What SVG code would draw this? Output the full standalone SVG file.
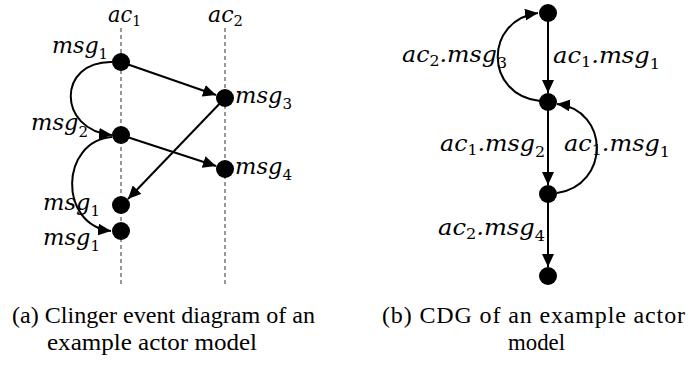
<svg xmlns="http://www.w3.org/2000/svg" width="691" height="367" viewBox="0 0 691 367">
<style>
.m{font-family:"DejaVu Serif","Liberation Serif",serif;font-style:italic;font-size:22.5px;fill:#000}
.s{font-style:normal;font-size:15px}
.cap{font-family:"Liberation Serif","Times New Roman",serif;font-size:24px;fill:#000}
.life{stroke:#555;stroke-width:1.2;stroke-dasharray:4 3;fill:none}
.e{stroke:#000;stroke-width:2;fill:none;marker-end:url(#ah)}
.n{fill:#000}
</style>
<defs>
<marker id="ah" markerUnits="userSpaceOnUse" markerWidth="14" markerHeight="12" viewBox="0 0 14 12" refX="13" refY="6" orient="auto">
<path d="M0,0 L13,6 L0,12 Z" fill="#000"/>
</marker>
</defs>
<rect width="691" height="367" fill="#fff"/>

<g id="lifelines">
<line class="life" x1="121" y1="28" x2="121" y2="284"/>
<line class="life" x1="225" y1="28" x2="225" y2="284"/>
<text class="m" x="108" y="22" textLength="33" lengthAdjust="spacingAndGlyphs">ac<tspan class="s" y="26">1</tspan></text>
<text class="m" x="208" y="22" textLength="35" lengthAdjust="spacingAndGlyphs">ac<tspan class="s" y="26">2</tspan></text>
</g>

<g id="connectors">
<line class="e" x1="121" y1="62" x2="216" y2="95"/>
<line class="e" x1="121" y1="135" x2="216" y2="166"/>
<line class="e" x1="225" y1="98" x2="128" y2="199"/>
<path class="e" d="M112,62 C57,61 57,130 112,135"/>
<path class="e" d="M112,137 C60,141 58,225 111,231"/>
<line class="e" x1="548" y1="13" x2="548" y2="93"/>
<line class="e" x1="548" y1="102" x2="548" y2="185"/>
<line class="e" x1="548" y1="194" x2="548" y2="267"/>
<path class="e" d="M540,101 C484,95 484,20 538,13"/>
<path class="e" d="M557,193 C610,185 610,110 557,104"/>
<text class="m" x="402" y="62" textLength="105" lengthAdjust="spacingAndGlyphs">ac<tspan class="s" y="66">2</tspan><tspan y="62">.msg</tspan><tspan class="s" y="68">3</tspan></text>
<text class="m" x="553" y="63" textLength="107" lengthAdjust="spacingAndGlyphs">ac<tspan class="s" y="67">1</tspan><tspan y="63">.msg</tspan><tspan class="s" y="69">1</tspan></text>
<text class="m" x="440" y="151" textLength="105" lengthAdjust="spacingAndGlyphs">ac<tspan class="s" y="155">1</tspan><tspan y="151">.msg</tspan><tspan class="s" y="157">2</tspan></text>
<text class="m" x="564" y="151" textLength="106" lengthAdjust="spacingAndGlyphs">ac<tspan class="s" y="155">1</tspan><tspan y="151">.msg</tspan><tspan class="s" y="157">1</tspan></text>
<text class="m" x="438" y="235" textLength="107" lengthAdjust="spacingAndGlyphs">ac<tspan class="s" y="239">2</tspan><tspan y="235">.msg</tspan><tspan class="s" y="241">4</tspan></text>
</g>

<g id="ev-msg1a"><circle class="n" cx="121" cy="62" r="9"/><text class="m" x="52" y="53" textLength="56" lengthAdjust="spacingAndGlyphs">msg<tspan class="s" y="59">1</tspan></text></g>
<g id="ev-msg3"><circle class="n" cx="225" cy="98" r="9"/><text class="m" x="235" y="103" textLength="57" lengthAdjust="spacingAndGlyphs">msg<tspan class="s" y="109">3</tspan></text></g>
<g id="ev-msg2"><circle class="n" cx="121" cy="135" r="9"/><text class="m" x="31" y="130" textLength="57" lengthAdjust="spacingAndGlyphs">msg<tspan class="s" y="137">2</tspan></text></g>
<g id="ev-msg4"><circle class="n" cx="225" cy="169" r="9"/><text class="m" x="235" y="174" textLength="57" lengthAdjust="spacingAndGlyphs">msg<tspan class="s" y="180">4</tspan></text></g>
<g id="ev-msg1b"><circle class="n" cx="121" cy="205" r="9"/><text class="m" x="43" y="210" textLength="57" lengthAdjust="spacingAndGlyphs">msg<tspan class="s" y="216">1</tspan></text></g>
<g id="ev-msg1c"><circle class="n" cx="121" cy="231" r="9"/><text class="m" x="43" y="245" textLength="57" lengthAdjust="spacingAndGlyphs">msg<tspan class="s" y="251">1</tspan></text></g>

<g id="s0"><circle class="n" cx="548" cy="13" r="9"/></g>
<g id="s1"><circle class="n" cx="548" cy="102" r="9"/></g>
<g id="s2"><circle class="n" cx="548" cy="194" r="9"/></g>
<g id="s3"><circle class="n" cx="548" cy="276" r="9"/></g>

<g id="captions">
<text class="cap" x="12" y="323" textLength="303" lengthAdjust="spacingAndGlyphs">(a)  Clinger event diagram of an</text>
<text class="cap" x="47" y="350" textLength="210" lengthAdjust="spacingAndGlyphs">example actor model</text>
<text class="cap" x="382" y="323" textLength="303" lengthAdjust="spacing">(b)  CDG  of  an  example  actor</text>
<text class="cap" x="508" y="350" textLength="57" lengthAdjust="spacingAndGlyphs">model</text>
</g>
</svg>
